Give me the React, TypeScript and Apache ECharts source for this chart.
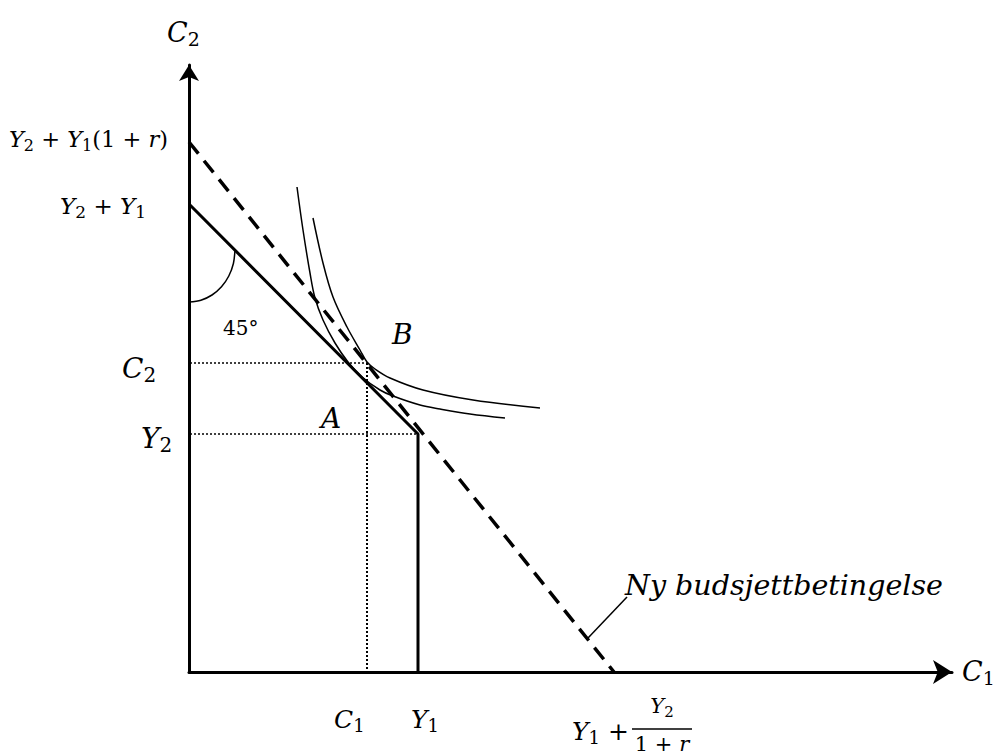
import React, { useEffect, useRef } from "react";
import * as echarts from "echarts";

// data in diagram units (1 unit = 1 px of the reference, origin at the axes' corner)
const budgetOld = [[0, 468], [229, 238], [229, 0]];
const budgetNew = [[0, 530], [425, 0]];
const guideC2 = [[-19, 309], [178, 309]];
const guideC1 = [[178, 309], [178, 0]];
const guideY2 = [[-11, 238], [229, 238]];
const curveInner = [
  [108, 485], [114, 442], [121, 399], [126, 374], [134, 352], [146, 329],
  [159, 310], [173, 295], [191, 282], [204, 276], [231, 267], [251, 263],
  [281, 258], [316, 254],
];
const curveOuter = [
  [124, 454], [134, 409], [144, 375], [158, 345], [171, 322], [178, 310],
  [186, 303], [201, 294], [234, 282], [284, 272], [351, 264],
];
const angleArc = [
  [0, 370], [11.9, 371.8], [23, 377], [32.5, 385.2], [39.8, 396], [44.4, 408.5], [46, 422],
];
const leader = [[399, 34], [438, 75]];

const FONT = '"DejaVu Serif", serif';

type Tok = [string, "i" | "n" | "s"];

// math-like label: italic letters, upright operators, upright subscripts
function math(parts: Tok[], x: number, y: number, size: number, align: string) {
  const L = Math.round(size * 1.23);
  const sub = Math.round(size * 0.72);
  const text = parts.map(([t, k]) => `{${k}|${t}}`).join("");
  return {
    type: "text",
    z: 100,
    style: {
      text,
      x,
      y,
      fill: "#000",
      align,
      textAlign: align,
      verticalAlign: "middle",
      textVerticalAlign: "middle",
      fontFamily: FONT,
      fontSize: size,
      rich: {
        i: { fontFamily: FONT, fontStyle: "italic", fontSize: size, lineHeight: L, verticalAlign: "middle", fill: "#000" },
        n: { fontFamily: FONT, fontStyle: "normal", fontSize: size, lineHeight: L, verticalAlign: "middle", fill: "#000" },
        s: { fontFamily: FONT, fontStyle: "normal", fontSize: sub, verticalAlign: "bottom", fill: "#000" },
      },
    },
  };
}

function lineSeries(data: number[][], width: number, type: any, smooth: any = false) {
  return {
    type: "line",
    data,
    symbol: "none",
    smooth,
    clip: false,
    silent: true,
    lineStyle: { color: "#000", width, type, cap: "butt" },
  };
}

export default function App() {
  const ref = useRef<HTMLDivElement>(null);
  useEffect(() => {
    if (!ref.current) return;
    const chart = echarts.init(ref.current, undefined, { renderer: "svg" });
    chart.setOption({
      animation: false,
      backgroundColor: "#fff",
      grid: { left: 189, right: 46, top: 65, bottom: 83 },
      xAxis: {
        type: "value",
        min: 0,
        max: 763,
        axisLine: {
          onZero: false,
          symbol: ["none", "arrow"],
          symbolSize: [18, 19],
          lineStyle: { color: "#000", width: 3 },
        },
        axisTick: { show: false },
        axisLabel: { show: false },
        splitLine: { show: false },
      },
      yAxis: {
        type: "value",
        min: 0,
        max: 607,
        axisLine: {
          show: true,
          onZero: false,
          symbol: ["none", "arrow"],
          symbolSize: [15, 16],
          lineStyle: { color: "#000", width: 3 },
        },
        axisTick: { show: false },
        axisLabel: { show: false },
        splitLine: { show: false },
      },
      series: [
        lineSeries(guideC2, 1.5, [2, 2]),
        lineSeries(guideC1, 2, [2, 2]),
        lineSeries(guideY2, 1.5, [2, 2]),
        lineSeries(budgetOld, 3, "solid"),
        lineSeries(budgetNew, 3.5, [15, 9]),
        lineSeries(curveInner, 1.5, "solid", 0.35),
        lineSeries(curveOuter, 1.5, "solid", 0.35),
        lineSeries(angleArc, 1.5, "solid", 0.3),
        lineSeries(leader, 1.5, "solid"),
      ],
      graphic: [
        math([["C", "i"], ["2", "s"]], 167, 32, 27, "left"),
        math([["Y", "i"], ["2", "s"], [" + ", "n"], ["Y", "i"], ["1", "s"], ["(1 + ", "n"], ["r", "i"], [")", "n"]], 168, 139, 22.5, "right"),
        math([["Y", "i"], ["2", "s"], [" + ", "n"], ["Y", "i"], ["1", "s"]], 146, 206, 23, "right"),
        math([["45°", "n"]], 223, 328, 20, "left"),
        math([["B", "i"]], 392, 334, 28, "left"),
        math([["A", "i"]], 321, 418, 28, "left"),
        math([["C", "i"], ["2", "s"]], 122, 368, 28, "left"),
        math([["Y", "i"], ["2", "s"]], 141, 438, 28, "left"),
        math([["C", "i"], ["1", "s"]], 334, 719, 25, "left"),
        math([["Y", "i"], ["1", "s"]], 411, 719, 25, "left"),
        math([["Y", "i"], ["1", "s"], [" +", "n"]], 572, 731, 25, "left"),
        math([["Y", "i"], ["2", "s"]], 662, 706, 21, "center"),
        math([["1 + ", "n"], ["r", "i"]], 662, 744, 21, "center"),
        {
          type: "line",
          z: 100,
          shape: { x1: 632, y1: 729, x2: 692, y2: 729 },
          style: { stroke: "#000", lineWidth: 1.5 },
        },
        math([["C", "i"], ["1", "s"]], 962, 671, 27, "left"),
        math([["Ny budsjettbetingelse", "i"]], 625, 585, 28.5, "left"),
      ],
    });
    return () => chart.dispose();
  }, []);
  return (
    <div
      ref={ref}
      style={{ position: "absolute", left: 0, top: 0, width: 998, height: 755, background: "#fff" }}
    />
  );
}
